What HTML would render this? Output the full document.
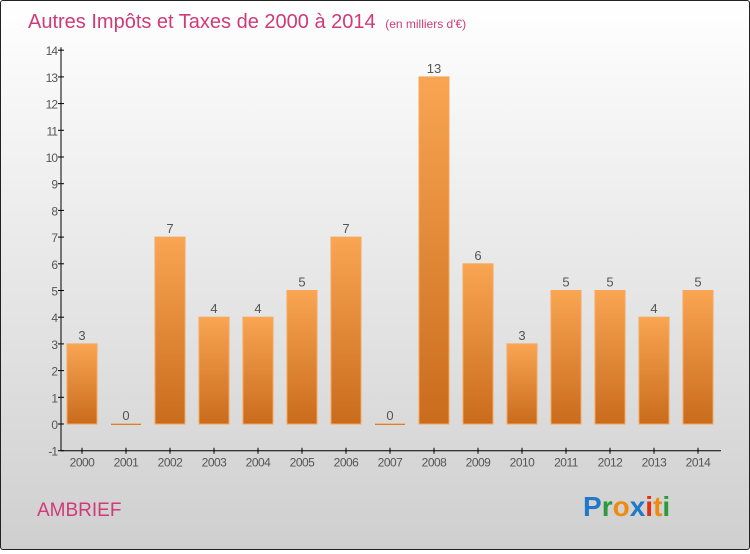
<!DOCTYPE html>
<html><head><meta charset="utf-8"><style>
body{margin:0;width:750px;height:550px;overflow:hidden;font-family:"Liberation Sans",sans-serif}
#wrap{position:absolute;left:0;top:0;width:748px;height:548px;border:1px solid #222;border-radius:3px;background:linear-gradient(#ffffff,#cfcfcf)}
</style></head><body>
<div id="wrap">
<svg width="748" height="548" id="svg">
<defs><linearGradient id="bg" x1="0" y1="0" x2="0" y2="1"><stop offset="0" stop-color="#f9a552"/><stop offset="1" stop-color="#c96c1c"/></linearGradient></defs>
<text x="27" y="27" font-size="20" fill="#d03a78">Autres Impôts et Taxes de 2000 à 2014 <tspan font-size="12" dx="4">(en milliers d'€)</tspan></text>
<text x="36" y="515" font-size="19" fill="#d03a78">AMBRIEF</text>
<g font-size="28" font-weight="bold">
<text x="582" y="515"><tspan fill="#1f78c8">P</tspan><tspan fill="#2a9a3a">r</tspan><tspan fill="#f08a10">o</tspan><tspan fill="#1f78c8">x</tspan><tspan fill="#e03010">i</tspan><tspan fill="#f08a10">t</tspan><tspan fill="#2a9a3a">i</tspan></text></g>
<g id="axes"></g><g id="bars"></g>
</svg></div>
<script>
const years=["2000","2001","2002","2003","2004","2005","2006","2007","2008","2009","2010","2011","2012","2013","2014"];
const values=[3,0,7,4,4,5,7,0,13,6,3,5,5,4,5];
const yTicks=[-1,0,1,2,3,4,5,6,7,8,9,10,11,12,13,14];
const NS="http://www.w3.org/2000/svg";
const y=v=>423-v*26.7;
const x=i=>81+i*44;
const ax=document.getElementById('axes'),bg=document.getElementById('bars');
function mk(t,a,p){const e=document.createElementNS(NS,t);for(const k in a)e.setAttribute(k,a[k]);p.appendChild(e);return e;}
let l=mk('line',{x1:60,y1:y(14)-3,x2:60,y2:y(-1),stroke:'#000'},ax);


l=mk('line',{x1:60,y1:y(-1),x2:720,y2:y(-1),stroke:'#000'},ax);


yTicks.forEach(v=>{mk('line',{x1:57,x2:63,y1:y(v),y2:y(v),stroke:'#000'},ax);
const t=mk('text',{x:56,y:y(v)+5,'text-anchor':'end','font-size':12,fill:'#555','letter-spacing':'-1'},ax);t.textContent=v;

});
years.forEach((yr,i)=>{mk('line',{x1:x(i),x2:x(i),y1:y(-1)-3,y2:y(-1)+3,stroke:'#000'},ax);
const t=mk('text',{x:x(i),y:y(-1)+16,'text-anchor':'middle','font-size':12,fill:'#555','letter-spacing':'-0.5'},ax);t.textContent=yr;


const v=values[i];const h=Math.max(v*26.7,1.5);
const r=mk('rect',{x:x(i)-15,y:y(0)-h+ (v?0:1),width:30,height:h,fill:'url(#bg)',stroke:v?'#f5a85a':'none','stroke-width':1},bg);


const lb=mk('text',{x:x(i),y:y(v)-4,'text-anchor':'middle','font-size':13,fill:'#555'},bg);lb.textContent=v;

});
</script></body></html>
